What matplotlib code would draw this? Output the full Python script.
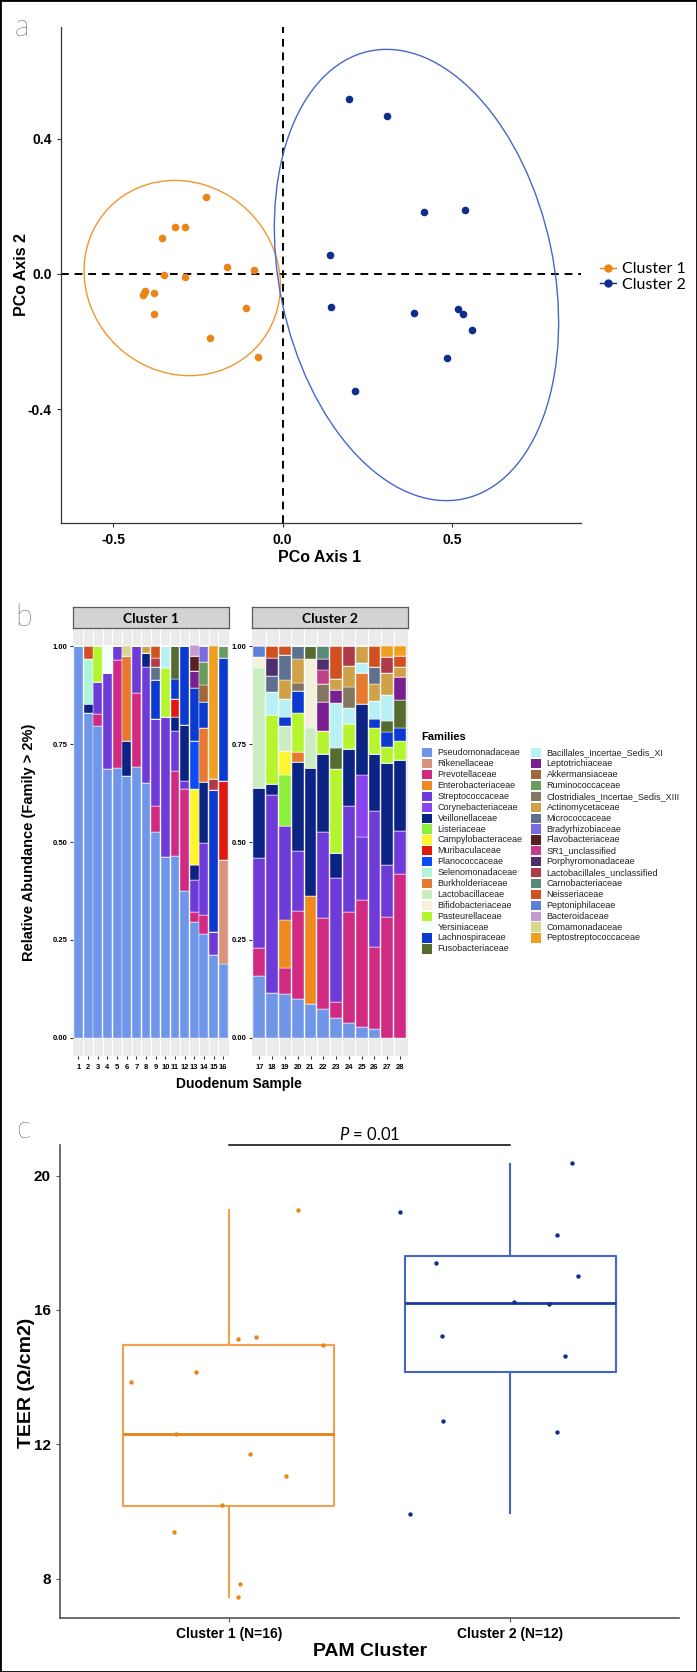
import matplotlib
matplotlib.use("Agg")
import matplotlib.pyplot as plt
from matplotlib.patches import Ellipse, Rectangle
from matplotlib.lines import Line2D

# ---------------- DATA ----------------
# Panel a: PCoA coordinates
c1_pc1 = [-0.227, -0.318, -0.290, -0.356, -0.164, -0.085, -0.351, -0.290, -0.406, -0.414,
          -0.380, -0.380, -0.110, -0.214, -0.072, -0.410]
c1_pc2 = [0.228, 0.139, 0.138, 0.106, 0.021, 0.013, -0.003, -0.009, -0.049, -0.061,
          -0.057, -0.118, -0.100, -0.190, -0.245, -0.055]
c2_pc1 = [0.197, 0.309, 0.416, 0.538, 0.140, 0.143, 0.387, 0.519, 0.532, 0.559, 0.485, 0.214]
c2_pc2 = [0.518, 0.469, 0.183, 0.190, 0.055, -0.098, -0.114, -0.104, -0.117, -0.166, -0.250, -0.346]
# ellipse: centre x, centre y, width, height, angle
ell_c1 = [-0.297, -0.012, 0.600, 0.557, -43.6]
ell_c2 = [0.395, -0.003, 1.354, 0.810, -78.2]
clusters = ["Cluster 1", "Cluster 2"]

# Panel b: family abundances
families = ["Pseudomonadaceae", "Rikenellaceae", "Prevotellaceae", "Enterobacteriaceae",
            "Streptococcaceae", "Corynebacteriaceae", "Veillonellaceae", "Listeriaceae",
            "Campylobacteraceae", "Muribaculaceae", "Planococcaceae", "Selenomonadaceae",
            "Burkholderiaceae", "Lactobacillaceae", "Bifidobacteriaceae", "Pasteurellaceae",
            "Yersiniaceae", "Lachnospiraceae", "Fusobacteriaceae",
            "Bacillales_Incertae_Sedis_XI", "Leptotrichiaceae", "Akkermansiaceae",
            "Ruminococcaceae", "Clostridiales_Incertae_Sedis_XIII", "Actinomycetaceae",
            "Micrococcaceae", "Bradyrhizobiaceae", "Flavobacteriaceae", "SR1_unclassified",
            "Porphyromonadaceae", "Lactobacillales_unclassified", "Carnobacteriaceae",
            "Neisseriaceae", "Peptoniphilaceae", "Bacteroidaceae", "Comamonadaceae",
            "Peptostreptococcaceae"]
family_colors = ["#6F96E8", "#D9937A", "#D02A82", "#EE8A1E", "#6E3BD9", "#8A44EE", "#0B2383",
                 "#8CEF3A", "#FFF52E", "#E01A10", "#0A4CF5", "#AEF5D8", "#E57A30", "#C9EDC0",
                 "#F3F1DC", "#B5F52D", "#F2FEFE", "#0B3AD0", "#556B2F",
                 "#B7F0F5", "#7A1F8F", "#A0673A", "#6A9A5E", "#837560", "#CFA24A",
                 "#5D7090", "#7A6AE0", "#5A2020", "#C0408A", "#4F2E6E", "#B03A48",
                 "#5A8A78", "#D0501F", "#5E7FD8", "#C49ACF", "#D6D68E", "#F0A020"]

samples_c1 = [
    {"Pseudomonadaceae": 1.0},
    {"Pseudomonadaceae": .828, "Veillonellaceae": .024, "Selenomonadaceae": .114, "Neisseriaceae": .034},
    {"Pseudomonadaceae": .796, "Prevotellaceae": .031, "Streptococcaceae": .082, "Pasteurellaceae": .091},
    {"Pseudomonadaceae": .687, "Streptococcaceae": .243, "Yersiniaceae": .070},
    {"Pseudomonadaceae": .688, "Prevotellaceae": .276, "Streptococcaceae": .036},
    {"Pseudomonadaceae": .668, "Veillonellaceae": .090, "Burkholderiaceae": .217, "Comamonadaceae": .025},
    {"Pseudomonadaceae": .692, "Prevotellaceae": .187, "Streptococcaceae": .121},
    {"Pseudomonadaceae": .651, "Streptococcaceae": .295, "Veillonellaceae": .035, "Actinomycetaceae": .019},
    {"Pseudomonadaceae": .525, "Prevotellaceae": .068, "Streptococcaceae": .221, "Lachnospiraceae": .099,
     "Micrococcaceae": .033, "Lactobacillales_unclassified": .023, "Neisseriaceae": .031},
    {"Pseudomonadaceae": .463, "Streptococcaceae": .355, "Pasteurellaceae": .125,
     "Bacillales_Incertae_Sedis_XI": .057},
    {"Pseudomonadaceae": .464, "Prevotellaceae": .218, "Streptococcaceae": .102, "Veillonellaceae": .036,
     "Muribaculaceae": .046, "Lachnospiraceae": .051, "Fusobacteriaceae": .083},
    {"Pseudomonadaceae": .376, "Prevotellaceae": .258, "Streptococcaceae": .022, "Veillonellaceae": .143,
     "Lachnospiraceae": .201},
    {"Pseudomonadaceae": .297, "Prevotellaceae": .025, "Streptococcaceae": .081, "Veillonellaceae": .038,
     "Campylobacteraceae": .195, "Planococcaceae": .121, "Lachnospiraceae": .137,
     "Leptotrichiaceae": .043, "Flavobacteriaceae": .038, "Bacteroidaceae": .027},
    {"Pseudomonadaceae": .265, "Prevotellaceae": .049, "Streptococcaceae": .184, "Veillonellaceae": .156,
     "Burkholderiaceae": .136, "Lachnospiraceae": .066, "Akkermansiaceae": .045,
     "Ruminococcaceae": .059, "Bradyrhizobiaceae": .040},
    {"Pseudomonadaceae": .212, "Streptococcaceae": .059, "Lachnospiraceae": .362,
     "Lactobacillales_unclassified": .029, "Peptostreptococcaceae": .338},
    {"Pseudomonadaceae": .190, "Rikenellaceae": .264, "Muribaculaceae": .202, "Lachnospiraceae": .313,
     "Ruminococcaceae": .031},
]
samples_c2 = [
    {"Pseudomonadaceae": .159, "Prevotellaceae": .070, "Streptococcaceae": .229, "Veillonellaceae": .179,
     "Lactobacillaceae": .306, "Bifidobacteriaceae": .028, "Peptoniphilaceae": .029},
    {"Pseudomonadaceae": .114, "Streptococcaceae": .506, "Veillonellaceae": .027, "Pasteurellaceae": .177,
     "Bacillales_Incertae_Sedis_XI": .058, "Micrococcaceae": .042, "Porphyromonadaceae": .046,
     "Neisseriaceae": .030},
    {"Pseudomonadaceae": .112, "Prevotellaceae": .067, "Enterobacteriaceae": .122, "Streptococcaceae": .241,
     "Listeriaceae": .129, "Campylobacteraceae": .061, "Lactobacillaceae": .064, "Lachnospiraceae": .024,
     "Bacillales_Incertae_Sedis_XI": .046, "Actinomycetaceae": .047, "Micrococcaceae": .064,
     "Neisseriaceae": .023},
    {"Pseudomonadaceae": .100, "Prevotellaceae": .224, "Streptococcaceae": .154, "Veillonellaceae": .227,
     "Burkholderiaceae": .025, "Pasteurellaceae": .100, "Lachnospiraceae": .056,
     "Clostridiales_Incertae_Sedis_XIII": .020, "Actinomycetaceae": .060, "Micrococcaceae": .034},
    {"Pseudomonadaceae": .086, "Enterobacteriaceae": .275, "Veillonellaceae": .327, "Lactobacillaceae": .102,
     "Bifidobacteriaceae": .176, "Fusobacteriaceae": .034},
    {"Pseudomonadaceae": .074, "Prevotellaceae": .231, "Streptococcaceae": .221, "Veillonellaceae": .198,
     "Pasteurellaceae": .059, "Leptotrichiaceae": .075, "Clostridiales_Incertae_Sedis_XIII": .045,
     "SR1_unclassified": .037, "Porphyromonadaceae": .026, "Carnobacteriaceae": .034},
    {"Pseudomonadaceae": .052, "Prevotellaceae": .041, "Streptococcaceae": .314, "Veillonellaceae": .064,
     "Pasteurellaceae": .214, "Fusobacteriaceae": .054, "Bacillales_Incertae_Sedis_XI": .116,
     "Leptotrichiaceae": .033, "Actinomycetaceae": .027, "Neisseriaceae": .085},
    {"Pseudomonadaceae": .038, "Prevotellaceae": .284, "Streptococcaceae": .271, "Veillonellaceae": .144,
     "Pasteurellaceae": .064, "Bacillales_Incertae_Sedis_XI": .042,
     "Clostridiales_Incertae_Sedis_XIII": .052, "Actinomycetaceae": .054,
     "Lactobacillales_unclassified": .051},
    {"Pseudomonadaceae": .029, "Prevotellaceae": .323, "Streptococcaceae": .162, "Corynebacteriaceae": .157,
     "Veillonellaceae": .181, "Burkholderiaceae": .078, "Bacillales_Incertae_Sedis_XI": .027,
     "Actinomycetaceae": .043},
    {"Pseudomonadaceae": .024, "Prevotellaceae": .209, "Streptococcaceae": .346, "Veillonellaceae": .145,
     "Pasteurellaceae": .066, "Lachnospiraceae": .023, "Bacillales_Incertae_Sedis_XI": .047,
     "Actinomycetaceae": .043, "Micrococcaceae": .044, "Neisseriaceae": .053},
    {"Prevotellaceae": .309, "Streptococcaceae": .132, "Veillonellaceae": .260, "Pasteurellaceae": .042,
     "Lachnospiraceae": .037, "Fusobacteriaceae": .030, "Bacillales_Incertae_Sedis_XI": .065,
     "Actinomycetaceae": .057, "Lactobacillales_unclassified": .041, "Peptostreptococcaceae": .027},
    {"Prevotellaceae": .418, "Streptococcaceae": .110, "Veillonellaceae": .181, "Pasteurellaceae": .049,
     "Lachnospiraceae": .032, "Fusobacteriaceae": .072, "Leptotrichiaceae": .058,
     "Actinomycetaceae": .027, "Neisseriaceae": .027, "Peptostreptococcaceae": .026},
]
sample_ids_c1 = list(range(1, 17))
sample_ids_c2 = list(range(17, 29))
yticks_b = [0.0, 0.25, 0.50, 0.75, 1.00]

# Panel c: TEER
teer_c1_x = [0.651, 0.883, 1.032, 1.096, 1.333, 1.246, 0.811, 1.076, 1.202, 0.976, 0.806, 1.039, 1.033]
teer_c1_y = [13.85, 14.16, 15.13, 15.20, 14.97, 18.99, 12.31, 11.70, 11.07, 10.18, 9.38, 7.84, 7.45]
teer_c2_x = [2.219, 1.610, 2.165, 1.738, 2.241, 2.014, 2.139, 1.759, 2.194, 1.763, 2.167, 1.643]
teer_c2_y = [20.37, 18.93, 18.22, 17.41, 17.01, 16.25, 16.19, 15.22, 14.63, 12.69, 12.38, 9.92]
box_q1 = [10.17, 14.16]
box_med = [12.32, 16.22]
box_q3 = [14.97, 17.61]
box_lo = [7.46, 9.95]
box_hi = [18.99, 20.35]
teer_labels = ["Cluster 1 (N=16)", "Cluster 2 (N=12)"]
p_text = "$P$ = 0.01"

# ---------------- STYLE ----------------
plt.rcParams["font.family"] = ["Liberation Sans", "DejaVu Sans"]
plt.rcParams["mathtext.fontset"] = "custom"
plt.rcParams["mathtext.it"] = "Lato:italic"
plt.rcParams["mathtext.rm"] = "Lato"
ORANGE = "#EC8519"
NAVY = "#0E2D8E"
NARROW = ["Liberation Sans Narrow", "Liberation Sans"]

W, H = 697, 1672
fig = plt.figure(figsize=(W / 100, H / 100), dpi=100)


def rect(x0, y0, x1, y1):
    return [x0 / W, 1 - y1 / H, (x1 - x0) / W, (y1 - y0) / H]


def fx(x):
    return x / W


def fy(y):
    return 1 - y / H


# ---------------- PANEL A ----------------
axa = fig.add_axes(rect(61, 27, 581, 523))
axa.set_xlim(-0.655, 0.881)
axa.set_ylim(-0.737, 0.731)
axa.axhline(0, color="black", lw=1.4, ls=(0, (4, 3)), zorder=1)
axa.axvline(0, color="black", lw=1.4, ls=(0, (4, 3)), zorder=1)
for e, col in [(ell_c1, "#F2962F"), (ell_c2, "#4767C8")]:
    axa.add_patch(Ellipse((e[0], e[1]), e[2], e[3], angle=e[4], fill=False, ec=col, lw=1.0, zorder=2))
axa.scatter(c1_pc1, c1_pc2, s=30, color=ORANGE, zorder=3, linewidths=0)
axa.scatter(c2_pc1, c2_pc2, s=30, color=NAVY, zorder=3, linewidths=0)
for s in ["top", "right"]:
    axa.spines[s].set_visible(False)
for s in ["left", "bottom"]:
    axa.spines[s].set_color("#333333")
    axa.spines[s].set_linewidth(0.9)
axa.set_xticks([-0.5, 0.0, 0.5])
axa.set_xticklabels(["-0.5", "0.0", "0.5"])
axa.set_yticks([-0.4, 0.0, 0.4])
axa.set_yticklabels(["-0.4", "0.0", "0.4"])
axa.tick_params(length=3, color="#333333", labelsize=10)
axa.tick_params(axis="x", pad=4)
for lab in axa.get_xticklabels() + axa.get_yticklabels():
    lab.set_family(NARROW)
    lab.set_fontweight("bold")
fig.text(fx(22), fy(275), "PCo Axis 2", rotation=90, ha="center", va="center",
         fontsize=11.5, fontweight="bold")
fig.text(fx(320), fy(558), "PCo Axis 1", ha="center", va="center", fontsize=11.5, fontweight="bold")
handles = [Line2D([0], [0], color=ORANGE, marker="o", ms=5, lw=1),
           Line2D([0], [0], color=NAVY, marker="o", ms=5, lw=1)]
fig.legend(handles, clusters, loc="center left", bbox_to_anchor=(fx(592), fy(277)), frameon=False,
           handlelength=1.0, handletextpad=0.4, labelspacing=0.1, borderpad=0,
           prop={"family": "Lato", "size": 11.5})

# ---------------- PANEL B ----------------
ylim_b = (-0.047, 1.045)


def draw_bars(ax, ids, samples):
    bottoms = [0.0] * len(ids)
    for fam, col in zip(families, family_colors):
        vals = [s.get(fam, 0.0) for s in samples]
        ax.bar(ids, vals, bottom=bottoms, width=0.92, color=col, edgecolor="white", linewidth=0.3,
               zorder=2)
        bottoms = [b + v for b, v in zip(bottoms, vals)]


for (x0, x1), ids, samples, title in [((72.7, 229.0), sample_ids_c1, samples_c1, clusters[0]),
                                       ((251.7, 407.7), sample_ids_c2, samples_c2, clusters[1])]:
    ax = fig.add_axes(rect(x0, 628.4, x1, 1056.4))
    ax.set_facecolor("#EBEBEB")
    draw_bars(ax, ids, samples)
    ax.set_xlim(ids[0] - 0.6, ids[-1] + 0.6)
    ax.set_ylim(*ylim_b)
    ax.set_xticks(ids)
    ax.set_xticklabels([str(i) for i in ids])
    ax.set_xticks([i + 0.5 for i in ids[:-1]], minor=True)
    ax.grid(which="minor", axis="x", color="white", lw=0.8, zorder=0)
    ax.set_yticks(yticks_b)
    ax.set_yticklabels(["%.2f" % v for v in yticks_b])
    ax.tick_params(axis="both", which="major", length=2, color="#333333", labelsize=5.5, pad=1.5)
    ax.tick_params(axis="x", which="major", pad=3.5)
    ax.tick_params(axis="x", which="minor", length=0)
    for lab in ax.get_xticklabels() + ax.get_yticklabels():
        lab.set_fontweight("bold")
    for s in ax.spines.values():
        s.set_visible(False)
    st = fig.add_axes(rect(x0, 607, x1, 628.4))
    st.set_facecolor("#D3D3D3")
    st.set_xticks([])
    st.set_yticks([])
    for s in st.spines.values():
        s.set_color("#5A5A5A")
        s.set_linewidth(0.9)
    st.text(0.5, 0.45, title, ha="center", va="center", transform=st.transAxes,
            fontsize=10, fontweight="bold", family="Lato")

fig.text(fx(29), fy(842), "Relative Abundance (Family > 2%)", rotation=90, ha="center", va="center",
         fontsize=10.5, fontweight="bold")
fig.text(fx(239), fy(1084), "Duodenum Sample", ha="center", va="center", fontsize=10,
         fontweight="bold")

# legend
fig.text(fx(421), fy(737), "Families", ha="left", va="center", fontsize=8, fontweight="bold")
for i, (fam, col) in enumerate(zip(families, family_colors)):
    colno, row = divmod(i, 19)
    kx = 422 if colno == 0 else 531
    ky = 752.7 + 10.9 * row
    fig.patches.append(Rectangle((fx(kx), fy(ky + 4.6)), 9.5 / W, 9.2 / H, transform=fig.transFigure,
                                 facecolor=col, edgecolor="none"))
    fig.text(fx(kx + 15.5), fy(ky), fam, ha="left", va="center", fontsize=6.5, color="#222222")

# ---------------- PANEL C ----------------
axc = fig.add_axes(rect(60, 1145.4, 679, 1618.3))
axc.set_xlim(0.4, 2.6)
axc.set_ylim(6.82, 20.9)
stats = []
for i in range(2):
    stats.append({"q1": box_q1[i], "med": box_med[i], "q3": box_q3[i],
                  "whislo": box_lo[i], "whishi": box_hi[i], "fliers": []})
edge_cols = ["#F2A04A", "#4466C4"]
med_cols = ["#EA7E12", "#1C3C9C"]
for i in range(2):
    axc.bxp([stats[i]], positions=[i + 1], widths=0.75, showcaps=False, showfliers=False,
            boxprops=dict(color=edge_cols[i], lw=1.5),
            whiskerprops=dict(color=edge_cols[i], lw=1.5),
            medianprops=dict(color=med_cols[i], lw=2.0),
            manage_ticks=False)
axc.scatter(teer_c1_x, teer_c1_y, s=10, color=ORANGE, zorder=3, linewidths=0)
axc.scatter(teer_c2_x, teer_c2_y, s=10, color=NAVY, zorder=3, linewidths=0)
axc.plot([1, 2], [20.9, 20.9], color="black", lw=1.1, clip_on=False)
axc.text(1.5, 20.98, p_text, ha="center", va="bottom", fontsize=12, family="Lato")
for s in ["top", "right"]:
    axc.spines[s].set_visible(False)
for s in ["left", "bottom"]:
    axc.spines[s].set_color("#555555")
    axc.spines[s].set_linewidth(1.2)
axc.set_xticks([1, 2])
axc.set_xticklabels(teer_labels)
axc.set_yticks([8, 12, 16, 20])
axc.tick_params(length=3, color="#555555")
axc.tick_params(axis="y", labelsize=11)
axc.tick_params(axis="x", labelsize=10)
for lab in axc.get_xticklabels() + axc.get_yticklabels():
    lab.set_fontweight("bold")
fig.text(fx(27), fy(1383), "TEER (\u03a9/cm2)", rotation=90, ha="center", va="center", fontsize=14,
         fontweight="bold")
fig.text(fx(370), fy(1652), "PAM Cluster", ha="center", va="center", fontsize=14, fontweight="bold")

# panel letters
for letter, (lx, ly) in [("a", (22, 27)), ("b", (23, 617)), ("c", (23, 1130))]:
    fig.text(fx(lx), fy(ly), letter, ha="center", va="center", fontsize=22, family="Lato",
             fontweight="light")

fig.patches.append(Rectangle((0, 0), 1, 1, transform=fig.transFigure, fill=False, lw=2,
                             edgecolor="black"))
fig.savefig("out.png", dpi=100)
